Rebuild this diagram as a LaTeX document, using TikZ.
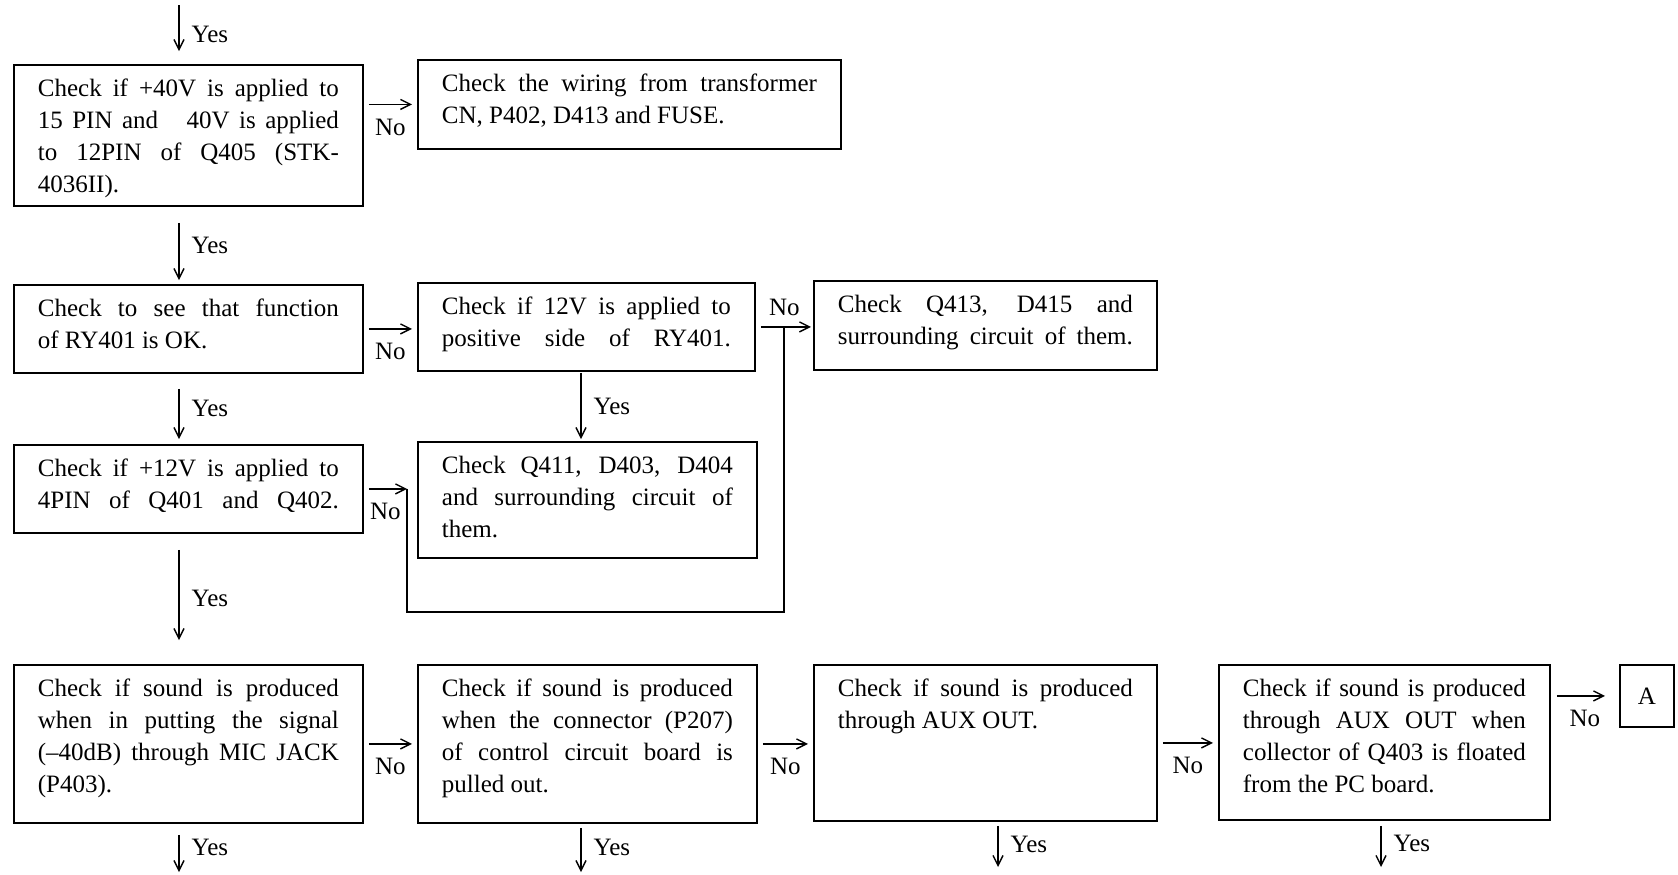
\documentclass[tikz,border=0pt]{standalone}
\usepackage{fontspec}
\setmainfont{Liberation Serif}
\usepackage{tikz}
\usetikzlibrary{positioning,arrows.meta}

\begin{document}
\begin{tikzpicture}[x=0.5pt, y=-0.5pt, line width=0.7pt,
        >={Straight Barb[length=5pt,width=5pt]},
        font=\fontsize{12.5}{16}\selectfont,
        main/.style = {draw, line width=0.9pt, anchor=north west, align=justify, inner xsep=12pt, inner ysep=0pt, text height=16pt},
        spread/.style = {execute at begin node={\parfillskip=0pt\relax}},
        yes/.style = {midway, anchor=west, inner sep=0pt, xshift=6pt},
        no/.style = {midway, anchor=north, inner sep=0pt, yshift=-7pt},
        noabove/.style = {midway, anchor=south, inner sep=0pt, yshift=5pt}]
        \useasboundingbox (0,0) rectangle (1678,874);
        \node[main, text width=150.5pt, text depth=54.5pt] (1) at (13,64) {Check if +40V is applied to\linebreak 15 PIN and \ \ 40V is applied\linebreak to 12PIN of Q405 (STK-\linebreak 4036II).};
        \node[main, text width=187.5pt, text depth=28.5pt] (2) at (417,59) {Check the wiring from transformer\linebreak CN, P402, D413 and FUSE.};
        \node[main, text width=150.5pt, text depth=28pt] (3) at (13,284) {Check to see that function\linebreak of RY401 is OK.};
        \node[main, spread, text width=144.5pt, text depth=28pt] (4) at (417,282) {Check if 12V is applied to\linebreak positive side of RY401.};
        \node[main, spread, text width=147.5pt, text depth=28.5pt] (5) at (813,280) {Check Q413, D415 and\linebreak surrounding circuit of them.};
        \node[main, text width=145.5pt, text depth=42pt] (6) at (417,441) {Check Q411, D403, D404\linebreak and surrounding circuit of\linebreak them.};
        \node[main, spread, text width=150.5pt, text depth=28pt] (7) at (13,444) {Check if +12V is applied to\linebreak 4PIN of Q401 and Q402.};
        \node[main, text width=150.5pt, text depth=63pt] (8) at (13,664) {Check if sound is produced\linebreak when in putting the signal\linebreak (–40dB) through MIC JACK\linebreak (P403).};
        \node[main, text width=145.5pt, text depth=63pt] (9) at (417,664) {Check if sound is produced\linebreak when the connector (P207)\linebreak of control circuit board is\linebreak pulled out.};
        \node[main, text width=147.5pt, text depth=62pt] (10) at (813,664) {Check if sound is produced\linebreak through AUX OUT.};
        \node[main, text width=141.5pt, text depth=61.5pt] (11) at (1218,664) {Check if sound is produced\linebreak through AUX OUT when\linebreak collector of Q403 is floated\linebreak from the PC board.};
        \node[draw, line width=0.9pt, anchor=north west, minimum width=27pt, minimum height=31pt, inner sep=0pt] (A) at (1619,664) {A};
        \coordinate (s) at (179,5);
        \coordinate (m) at (581,0);
        \coordinate (k1) at (407,612);
        \coordinate (k2) at (784,612);
        \coordinate (e8) at (179,872);
        \coordinate (e9) at (581,872);
        \coordinate (e10) at (998,867);
        \coordinate (e11) at (1381,867);
        \draw[->, shorten >=6.5pt] (s) -- (s |- 1.north) node[yes] {Yes};
        \draw[->, shorten <=2.5pt, shorten >=2.5pt] (2.west -| 1.east) -- (2.west) node[no] {No};
        \draw[->, shorten <=8pt, shorten >=2pt] (1.south -| s) -- (3.north -| s) node[yes] {Yes};
        \draw[->, shorten <=2.5pt, shorten >=2.5pt] (3.east) -- (3.east -| 4.west) node[no] {No};
        \draw[->, shorten <=2.5pt, shorten >=1pt] (4.east) -- (4.east -| 5.west) node[noabove] {No};
        \draw[->, shorten <=7.5pt, shorten >=2.5pt] (3.south -| s) -- (7.north -| s) node[yes] {Yes};
        \draw[->, shorten <=0.5pt, shorten >=1pt] (4.south -| m) -- (6.north -| m) node[yes] {Yes};
        \draw[->, shorten <=2.5pt] (7.east) -- (7.east -| k1) node[no] {No};
        \draw (7.east -| k1) -- (k1) -- (k2) -- (k2 |- 4.east);
        \draw[->, shorten <=8pt, shorten >=12pt] (7.south -| s) -- (8.north -| s) node[yes] {Yes};
        \draw[->, shorten <=2.5pt, shorten >=2.5pt] (8.east) -- (9.west) node[no] {No};
        \draw[->, shorten <=2.5pt, shorten >=2.5pt] (9.east) -- (9.east -| 10.west) node[no] {No};
        \draw[->, shorten <=2.5pt, shorten >=2.5pt] (10.east) -- (10.east -| 11.west) node[no] {No};
        \draw[->, shorten <=3pt, shorten >=7pt] (11.east |- A.west) -- (A.west) node[no] {No};
        \draw[->, shorten <=5.5pt] (8.south -| e8) -- (e8) node[yes] {Yes};
        \draw[->, shorten <=2pt] (9.south -| e9) -- (e9) node[yes] {Yes};
        \draw[->, shorten <=2pt] (10.south -| e10) -- (e10) node[yes] {Yes};
        \draw[->, shorten <=2.5pt] (11.south -| e11) -- (e11) node[yes] {Yes};
    \end{tikzpicture}
\end{document}
